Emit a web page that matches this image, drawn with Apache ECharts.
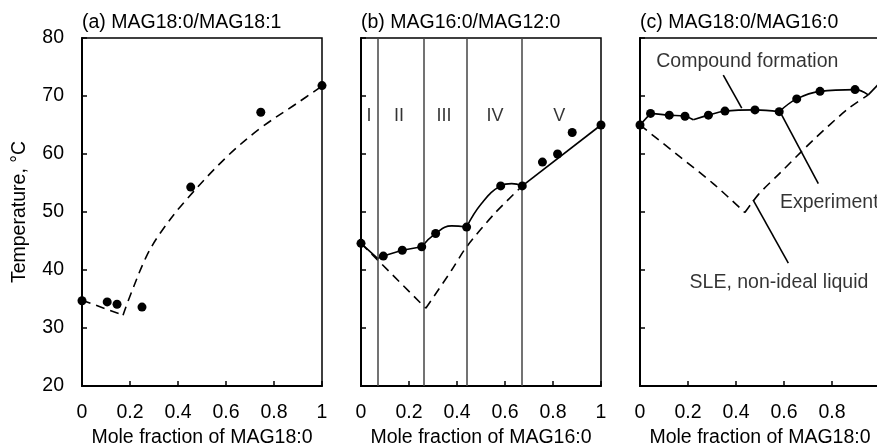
<!DOCTYPE html>
<html>
<head>
<meta charset="utf-8">
<script src="https://cdn.jsdelivr.net/npm/echarts@6/dist/echarts.min.js"></script>
<style>html,body{margin:0;padding:0;background:#fff}#c{width:877px;height:448px}</style>
</head>
<body>
<div id="c"></div>
<script>
// ---------- Data ----------
const panelTitles = ['(a) MAG18:0/MAG18:1', '(b) MAG16:0/MAG12:0', '(c) MAG18:0/MAG16:0'];
const xNames = ['Mole fraction of MAG18:0', 'Mole fraction of MAG16:0', 'Mole fraction of MAG18:0'];
const yName = 'Temperature, °C';

// Panel (a)
const aPoints = [[0, 34.7], [0.105, 34.5], [0.146, 34.1], [0.25, 33.6], [0.453, 54.3], [0.745, 67.2], [1, 71.8]];
const aDashDown = [[0, 34.8], [0.171, 32.2]];
const aDashUp = [[0.171, 32.2], [0.199, 35.4], [0.268, 42.3], [0.33, 46.6], [0.428, 51.8], [0.603, 59.5], [0.742, 64.4], [0.894, 68.7], [1, 71.7]];

// Panel (b)
const bPoints = [[0, 44.6], [0.093, 42.4], [0.172, 43.4], [0.253, 44.0], [0.311, 46.3], [0.44, 47.4], [0.582, 54.5], [0.672, 54.5], [0.756, 58.6], [0.819, 60.0], [0.88, 63.7], [1, 65.0]];
const bSolid1 = [[0, 44.6], [0.069, 42.0], [0.093, 42.4], [0.172, 43.4], [0.253, 44.0]];
const bSolid2 = [[0.253, 44.0], [0.311, 46.3], [0.378, 47.6], [0.44, 47.4]];
const bSolid3 = [[0.44, 47.4], [0.503, 51.5], [0.582, 54.5], [0.628, 54.9], [0.672, 54.5]];
const bSolid4 = [[0.672, 54.5], [1, 65.0]];
const bDashDown = [[0, 44.6], [0.27, 33.4]];
const bDashUp = [[0.27, 33.4], [0.378, 40.0], [0.44, 44.0], [0.558, 49.8], [0.672, 54.5]];
const bBoundaries = [0.069, 0.2625, 0.4375, 0.674];
const bRegions = [[0.033, 66.5, 'I'], [0.158, 66.5, 'II'], [0.346, 66.5, 'III'], [0.558, 66.5, 'IV'], [0.826, 66.5, 'V']];

// Panel (c)
const cPoints = [[0, 65.0], [0.044, 67.0], [0.122, 66.7], [0.1875, 66.5], [0.285, 66.7], [0.354, 67.4], [0.479, 67.6], [0.58, 67.3], [0.653, 69.5], [0.75, 70.8], [0.896, 71.1]];
const cSolid1 = [[0, 65.0], [0.044, 67.0]];
const cSolid2 = [[0.044, 67.0], [0.122, 66.7], [0.1875, 66.5], [0.222, 65.9]];
const cSolid3 = [[0.222, 65.9], [0.285, 66.7], [0.354, 67.4], [0.479, 67.6], [0.58, 67.3]];
const cSolid4 = [[0.58, 67.3], [0.653, 69.5], [0.75, 70.8], [0.896, 71.1], [0.951, 70.2]];
const cSolid5 = [[0.951, 70.2], [1, 72.3]];
const cDashDown = [[0, 65.0], [0.167, 59.5], [0.305, 54.9], [0.437, 49.9]];
const cDashUp = [[0.437, 49.9], [0.493, 53.0], [0.583, 56.7], [0.722, 62.4], [0.861, 67.6], [0.951, 70.2]];
const cLabels = [[0.447, 75.9, 'Compound formation', 'center'], [0.583, 51.6, 'Experiment', 'left'], [0.579, 37.8, 'SLE, non-ideal liquid', 'center']];
const cLeader1 = [[0.347, 73.6], [0.424, 67.9]];
const cLeader2 = [[0.583, 67.3], [0.743, 54.9]];
const cLeader3 = [[0.471, 52.1], [0.618, 41.2]];

// ---------- Chart ----------
const FONT = 'Liberation Sans, Arial, sans-serif';
const FS = 19.5, FS_ROMAN = 18;
const lefts = [82, 361, 640];
const chart = echarts.init(document.getElementById('c'));

const grids = lefts.map(l => ({left: l, top: 38, width: 240, height: 348, show: true, borderColor: '#000', borderWidth: 1.5,
  backgroundColor: 'transparent', containLabel: false, outerBoundsMode: 'none'}));
const xAxes = lefts.map((l, i) => ({
  gridIndex: i, type: 'value', min: 0, max: 1, interval: 0.2,
  axisLine: {lineStyle: {color: '#000', width: 2}},
  axisTick: {inside: true, length: 5, lineStyle: {color: '#000', width: 1.5}},
  axisLabel: {color: '#000', fontSize: FS, fontFamily: FONT, margin: 17, showMaxLabel: i !== 2},
  splitLine: {show: false},
  name: xNames[i], nameLocation: 'middle', nameGap: 42,
  nameTextStyle: {color: '#000', fontSize: FS, fontFamily: FONT}
}));
const yAxes = lefts.map((l, i) => ({
  gridIndex: i, type: 'value', min: 20, max: 80, interval: 10,
  axisLine: {show: true, lineStyle: {color: '#000', width: 2}},
  axisTick: {show: true, inside: true, length: 5, lineStyle: {color: '#000', width: 1.5}},
  axisLabel: {show: i === 0, color: '#000', fontSize: FS, fontFamily: FONT, margin: 18},
  splitLine: {show: false},
  name: i === 0 ? yName : '', nameLocation: 'middle', nameGap: 52,
  nameTextStyle: {color: '#000', fontSize: FS, fontFamily: FONT}
}));

const DASH = [9, 6];
function solid(data, gi, smooth) {
  return {type: 'line', xAxisIndex: gi, yAxisIndex: gi, data: data, smooth: smooth || false, symbol: 'none',
    lineStyle: {color: '#000', width: 1.6}, silent: true, z: 3};
}
function dashed(data, gi, smooth) {
  return {type: 'line', xAxisIndex: gi, yAxisIndex: gi, data: data, smooth: smooth || false, symbol: 'none',
    lineStyle: {color: '#000', width: 1.6, type: DASH}, silent: true, z: 2};
}
function pts(data, gi) {
  return {type: 'scatter', xAxisIndex: gi, yAxisIndex: gi, data: data, symbol: 'circle', symbolSize: 9,
    itemStyle: {color: '#000', opacity: 1}, silent: true, z: 5};
}
function labels(data, gi, fs) {
  return {type: 'scatter', xAxisIndex: gi, yAxisIndex: gi, symbolSize: 0, silent: true, z: 6,
    data: data.map(d => ({value: [d[0], d[1]], name: d[2],
      label: d[3] === 'left' ? {position: 'right', distance: 0} : {position: 'inside'}})),
    label: {show: true, formatter: p => p.name, color: '#000', fontSize: fs, fontFamily: FONT, verticalAlign: 'middle'}};
}

const series = [
  // (a)
  dashed(aDashDown, 0), dashed(aDashUp, 0, 0.35), pts(aPoints, 0),
  // (b)
  {type: 'line', xAxisIndex: 1, yAxisIndex: 1, data: [], symbol: 'none', silent: true,
    markLine: {silent: true, symbol: 'none', label: {show: false},
      lineStyle: {color: '#444', width: 1.5, type: 'solid'},
      data: bBoundaries.map(v => ({xAxis: v}))}},
  solid(bSolid1, 1), solid(bSolid2, 1, 0.45), solid(bSolid3, 1, 0.45), solid(bSolid4, 1),
  dashed(bDashDown, 1), dashed(bDashUp, 1, 0.3), pts(bPoints, 1),
  labels(bRegions.map(r => [r[0], r[1], r[2], 'center']), 1, FS_ROMAN),
  // (c)
  solid(cSolid1, 2), solid(cSolid2, 2, 0.4), solid(cSolid3, 2, 0.4), solid(cSolid4, 2, 0.4), solid(cSolid5, 2),
  dashed(cDashDown, 2, 0.3), dashed(cDashUp, 2, 0.3), pts(cPoints, 2),
  solid(cLeader1, 2), solid(cLeader2, 2), solid(cLeader3, 2),
  labels(cLabels, 2, FS)
];

chart.setOption({
  animation: false,
  backgroundColor: '#fff',
  title: panelTitles.map((t, i) => ({text: t, left: lefts[i], top: 13, padding: 0,
    textStyle: {color: '#000', fontSize: FS, fontWeight: 'normal', fontFamily: FONT}})),
  grid: grids, xAxis: xAxes, yAxis: yAxes, series: series
});
</script>
</body>
</html>
